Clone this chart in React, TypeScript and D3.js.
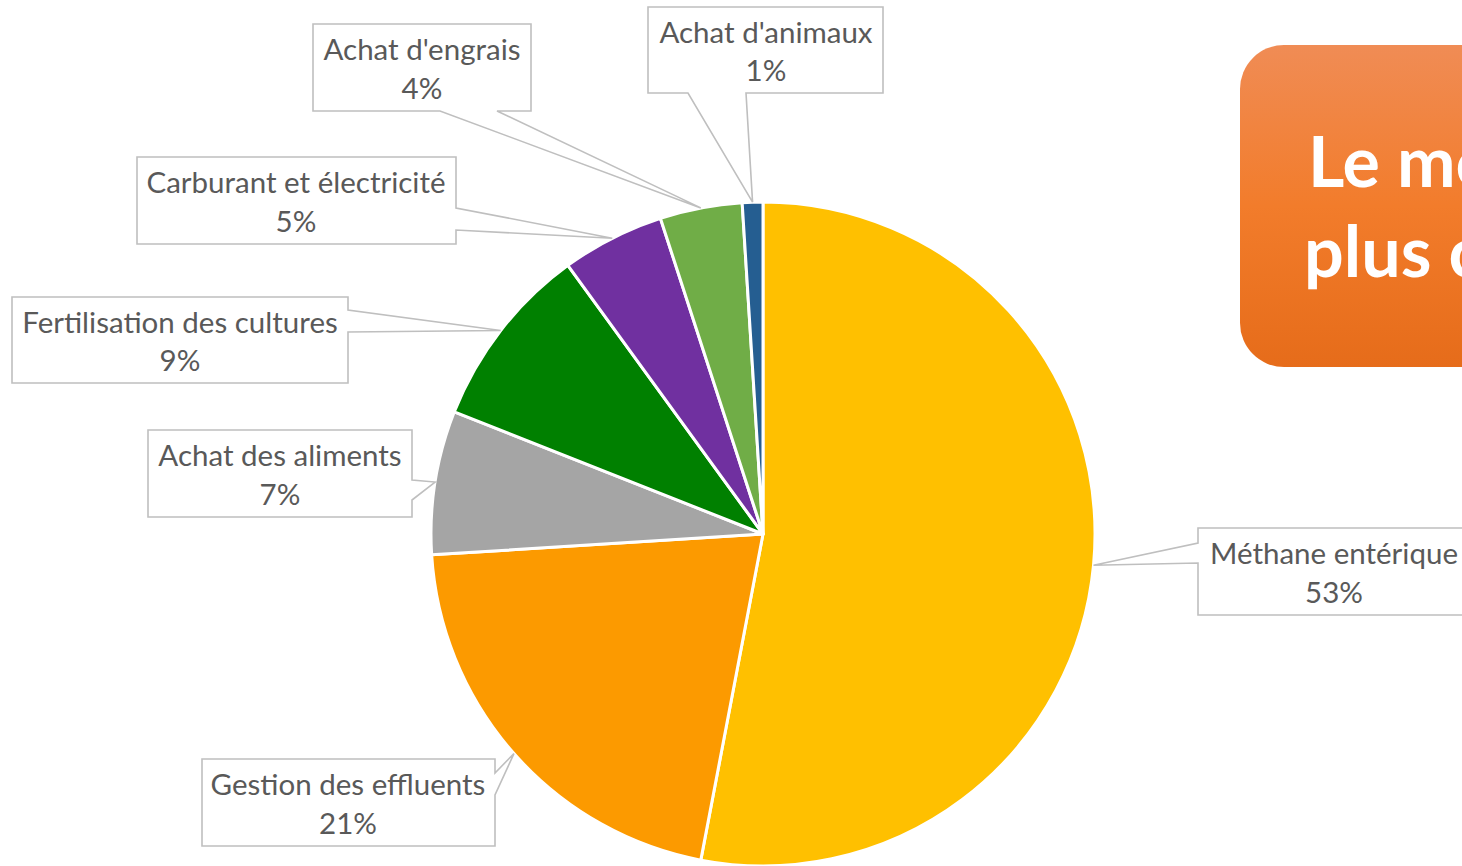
import React from "react";
import * as d3 from "d3";

const categories = [
  "Méthane entérique",
  "Gestion des effluents",
  "Achat des aliments",
  "Fertilisation des cultures",
  "Carburant et électricité",
  "Achat d'engrais",
  "Achat d'animaux",
];
const values = [53, 21, 7, 9, 5, 4, 1];
const colors = ["#FFC000", "#FC9A00", "#A5A5A5", "#008000", "#7030A0", "#70AD47", "#255E91"];
const titleLines = ["Le moteur", "plus carboné"];

// callout layout: box [x0,y0,x1,y1], side of pointer, base positions along side, text center x
const callouts = [
  { box: [1198, 528, 1472, 615], side: "left", base: [543, 563], tx: 1334 },
  { box: [202, 759, 495, 846], side: "right", base: [773, 795], tx: 348 },
  { box: [148, 430, 412, 517], side: "right", base: [480, 500], tx: 280 },
  { box: [12, 297, 348, 383], side: "right", base: [310, 332], tx: 180 },
  { box: [137, 157, 456, 244], side: "right", base: [208, 230], tx: 296 },
  { box: [313, 24, 531, 111], side: "bottom", base: [440, 497], tx: 422 },
  { box: [648, 7, 883, 93], side: "bottom", base: [688, 746], tx: 766 },
];

const cx = 763;
const cy = 534;
const R = 332;

function calloutPath(box: number[], side: string, base: number[], tip: [number, number]) {
  const [x0, y0, x1, y1] = box;
  const [a, b] = base;
  const [tx, ty] = tip;
  let p = `M${x0},${y0} L${x1},${y0} `;
  if (side === "right") p += `L${x1},${a} L${tx},${ty} L${x1},${b} `;
  p += `L${x1},${y1} `;
  if (side === "bottom") p += `L${b},${y1} L${tx},${ty} L${a},${y1} `;
  p += `L${x0},${y1} `;
  if (side === "left") p += `L${x0},${b} L${tx},${ty} L${x0},${a} `;
  p += "Z";
  return p;
}

export default function App() {
  const pie = d3.pie<number>().sort(null).startAngle(0).endAngle(2 * Math.PI);
  const arcs = pie(values);
  const arc = d3.arc<d3.PieArcDatum<number>>().innerRadius(0).outerRadius(R);
  const edge = d3.arc<d3.PieArcDatum<number>>().innerRadius(R).outerRadius(R);
  const fmt = d3.format(".0%");
  const total = d3.sum(values);

  return (
    <svg
      width={1462}
      height={866}
      style={{ position: "absolute", left: 0, top: 0, background: "#fff" }}
      fontFamily="Lato, 'Open Sans', sans-serif"
    >
      <defs>
        <linearGradient id="tg" x1="0" y1="0" x2="0" y2="1">
          <stop offset="0" stopColor="#F08C55" />
          <stop offset="0.5" stopColor="#F27C2B" />
          <stop offset="1" stopColor="#E66C1A" />
        </linearGradient>
      </defs>
      <g transform={`translate(${cx},${cy})`}>
        {arcs.map((d, i) => (
          <path key={i} d={arc(d) || ""} fill={colors[i]} stroke="#fff" strokeWidth={3} strokeLinejoin="round" />
        ))}
      </g>
      {arcs.map((d, i) => {
        const c = edge.centroid(d);
        const tip: [number, number] = [c[0] + cx, c[1] + cy];
        const co = callouts[i];
        const mid = (co.box[1] + co.box[3]) / 2;
        return (
          <g key={i}>
            <path d={calloutPath(co.box, co.side, co.base, tip)} fill="#fff" stroke="#BFBFBF" strokeWidth={1.6} />
            <text x={co.tx} y={mid - 7.5} textAnchor="middle" fontSize={29.5} fill="#595959">
              {categories[i]}
            </text>
            <text x={co.tx} y={mid + 31} textAnchor="middle" fontSize={29.5} fill="#595959">
              {fmt(values[i] / total)}
            </text>
          </g>
        );
      })}
      <rect x={1240} y={45} width={300} height={322} rx={44} ry={44} fill="url(#tg)" />
      <text x={1308} y={187} fontSize={70} fontWeight="bold" fill="#fff">
        {titleLines[0]}
      </text>
      <text x={1304} y={277} fontSize={70} fontWeight="bold" fill="#fff">
        {titleLines[1]}
      </text>
    </svg>
  );
}
